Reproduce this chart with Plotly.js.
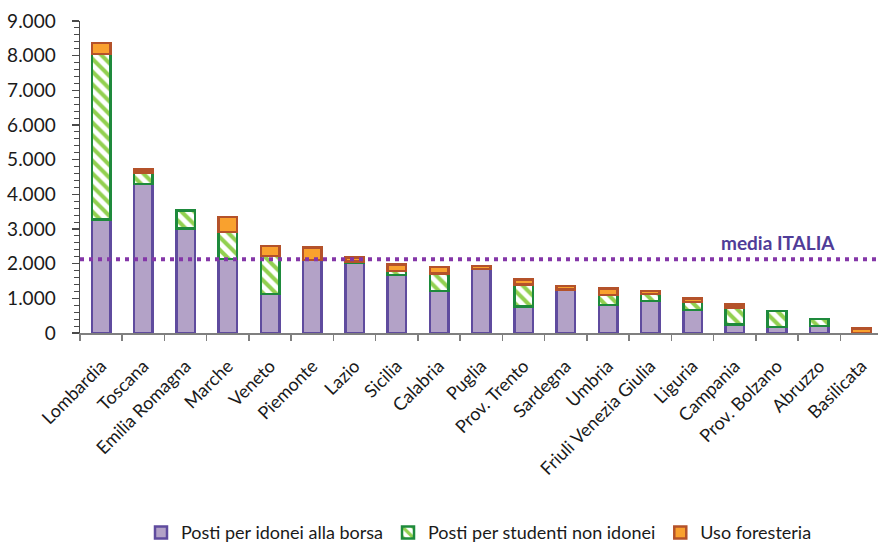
<!DOCTYPE html>
<html>
<head>
<meta charset="utf-8">
<script src="https://cdn.plot.ly/plotly-3.0.1.min.js"></script>
<style>
  html, body { margin: 0; padding: 0; background: #fff; }
  #chart { width: 878px; height: 543px; }
</style>
</head>
<body>
<div id="chart"></div>
<script>
// Posti alloggio per regione, suddivisi per tipologia
const regioni = [
  "Lombardia", "Toscana", "Emilia Romagna", "Marche", "Veneto", "Piemonte",
  "Lazio", "Sicilia", "Calabria", "Puglia", "Prov. Trento", "Sardegna",
  "Umbria", "Friuli Venezia Giulia", "Liguria", "Campania", "Prov. Bolzano",
  "Abruzzo", "Basilicata"
];
const postiIdonei = [
  3280, 4300, 3020, 2140, 1125, 2100,
  2030, 1670, 1210, 1840, 760, 1260,
  810, 930, 660, 250, 180,
  200, null
];
const postiNonIdonei = [
  4770, 330, 510, 780, 1100, null,
  30, 120, 510, null, 640, null,
  290, 190, 240, 480, 460,
  200, null
];
const usoForesteria = [
  320, 80, null, 430, 280, 370,
  120, 190, 190, 90, 150, 90,
  180, 95, 90, 90, null,
  null, 130
];
const mediaItalia = 2125;
const yTicks = [0, 1000, 2000, 3000, 4000, 5000, 6000, 7000, 8000, 9000];

const FONT = "Lato, 'Open Sans', sans-serif";

const traces = [
  {
    type: "bar",
    name: "Posti per idonei alla borsa",
    x: regioni,
    y: postiIdonei,
    width: 0.44,
    marker: { color: "#B3A2C7", line: { color: "#5F4B9E", width: 2.5 } },
    hoverinfo: "x+y+name"
  },
  {
    type: "bar",
    name: "Posti per studenti non idonei",
    x: regioni,
    y: postiNonIdonei,
    width: 0.44,
    marker: {
      color: "#92D050",
      line: { color: "#1E8A3C", width: 2.5 },
      pattern: { shape: "\\", bgcolor: "#ffffff", fgcolor: "#92D050", size: 9, solidity: 0.45 }
    },
    hoverinfo: "x+y+name"
  },
  {
    type: "bar",
    name: "Uso foresteria",
    x: regioni,
    y: usoForesteria,
    width: 0.44,
    marker: { color: "#F9A12E", line: { color: "#B4522A", width: 2.5 } },
    hoverinfo: "x+y+name"
  }
];

const layout = {
  width: 878,
  height: 543,
  margin: { l: 80, r: 0, t: 21, b: 210, autoexpand: false },
  paper_bgcolor: "#ffffff",
  plot_bgcolor: "#ffffff",
  barmode: "stack",
  separators: ",.",
  font: { family: FONT, color: "#1a1a1a" },
  showlegend: true,
  legend: {
    orientation: "h",
    x: 0.5, xanchor: "center",
    y: -0.64, yanchor: "middle",
    traceorder: "normal",
    font: { family: FONT, size: 18, color: "#1a1a1a" },
    itemwidth: 30
  },
  xaxis: {
    type: "category",
    range: [-0.5, 18.39],
    tickangle: -45,
    tickson: "boundaries",
    ticks: "outside",
    ticklen: 6,
    tickcolor: "#7f7f7f",
    tickwidth: 1.5,
    ticklabelstandoff: 14,
    showline: true,
    linecolor: "#7f7f7f",
    linewidth: 1.5,
    showgrid: false,
    tickfont: { family: FONT, size: 18, color: "#1a1a1a" },
    fixedrange: true
  },
  yaxis: {
    range: [0, 9000],
    tickvals: yTicks,
    tickformat: ",.0f",
    ticks: "outside",
    ticklen: 7,
    tickcolor: "#4a4a4a",
    tickwidth: 1.2,
    ticklabelstandoff: 12,
    minor: { dtick: 200, ticks: "outside", ticklen: 5, tickcolor: "#4a4a4a", tickwidth: 1 },
    showline: true,
    linecolor: "#4a4a4a",
    linewidth: 1.5,
    showgrid: false,
    zeroline: false,
    tickfont: { family: FONT, size: 19, color: "#1a1a1a" },
    fixedrange: true
  },
  shapes: [
    {
      type: "line",
      xref: "paper", x0: 0, x1: 1,
      yref: "y", y0: mediaItalia, y1: mediaItalia,
      line: { color: "#8436A8", width: 4, dash: "4px,5px" }
    }
  ],
  annotations: [
    {
      xref: "paper", x: 0.875, xanchor: "center",
      yref: "y", y: mediaItalia,
      yanchor: "bottom", yshift: 3,
      text: "<b>media ITALIA</b>",
      showarrow: false,
      font: { family: FONT, size: 19, color: "#503C98" }
    }
  ]
};

Plotly.newPlot("chart", traces, layout, { displayModeBar: false, staticPlot: true });
</script>
</body>
</html>
